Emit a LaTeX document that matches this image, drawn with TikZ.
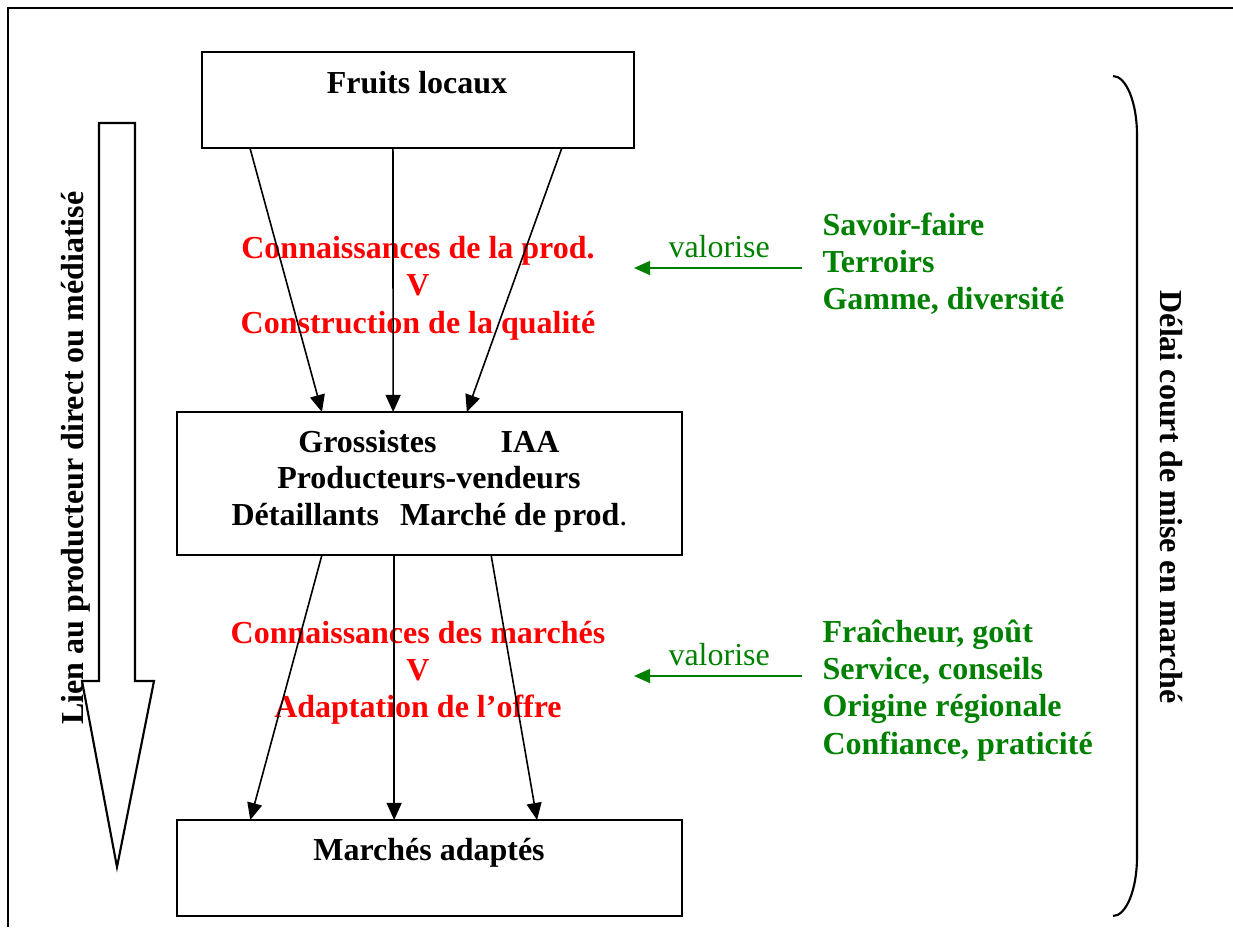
\documentclass[tikz,border=0pt]{standalone}
\usepackage{fontspec}
\setmainfont{Liberation Serif}
\usetikzlibrary{arrows.meta,calc}
\definecolor{wred}{RGB}{255,0,0}
\definecolor{wgreen}{RGB}{0,128,0}
\begin{document}
\begin{tikzpicture}[x=0.375pt,y=-0.375pt,
  box/.style={draw, line width=0.8pt, inner sep=0pt, outer sep=0pt},
  txt/.style={font=\fontsize{12}{14}\selectfont\bfseries, inner sep=0pt, anchor=base},
  redtxt/.style={txt, text=wred},
  greentxt/.style={txt, text=wgreen, anchor=base west},
  valtxt/.style={font=\fontsize{12}{14}\selectfont, text=wgreen, inner sep=0pt, anchor=base west},
  conn/.style={line width=0.6pt, -{Triangle[length=6.4pt,width=5.6pt]}},
  gconn/.style={wgreen, line width=0.65pt, -{Triangle[length=6pt,width=5.2pt]}},
  thick line/.style={line width=0.8pt},
]
\useasboundingbox (0,0) rectangle (1233,927);

% outer frame (top and left edges)
\draw[line width=0.9pt] (1233,8) -- (8,8) -- (8,927);

% boxes
\node[box, minimum width=162pt, minimum height=36pt] (top) at (418,100) {};
\node[box, minimum width=189.375pt, minimum height=53.625pt] (mid) at (429.5,483.5) {};
\node[box, minimum width=189.375pt, minimum height=36pt] (bot) at (429.5,868) {};

% box texts
\node[txt] (fruits) at (417,93) {Fruits locaux};
\node[txt] (gros) at (367.5,452) {Grossistes};
\node[txt] (iaa) at (530,452) {IAA};
\node[txt] (prodv) at (429,488.5) {Producteurs-vendeurs};
\node[txt, anchor=base west] (detail) at (231,525) {Détaillants};
\node[txt, anchor=base east] (marche) at (628,525) {Marché de prod\textmd{.}};
\node[txt] (adaptes) at (429,860) {Marchés adaptés};

% red texts
\node[redtxt] (r1) at (418,258) {Connaissances de la prod.};
\node[redtxt] (r2) at (418,295) {V};
\node[redtxt] (r3) at (418,333) {Construction de la qualité};
\node[redtxt] (r4) at (418,643) {Connaissances des marchés};
\node[redtxt] (r5) at (418,680) {V};
\node[redtxt] (r6) at (418,717) {Adaptation de l’offre};

% green lists
\node[greentxt] (g1) at (822,235) {Savoir-faire};
\node[greentxt] (g2) at (822,272) {Terroirs};
\node[greentxt] (g3) at (822,309) {Gamme, diversité};
\node[greentxt] (g4) at (822,642) {Fraîcheur, goût};
\node[greentxt] (g5) at (822,679) {Service, conseils};
\node[greentxt] (g6) at (822,716) {Origine régionale};
\node[greentxt] (g7) at (822,754) {Confiance, praticité};

\node[valtxt] (val1) at (668,257) {valorise};
\node[valtxt] (val2) at (668,665) {valorise};

\coordinate (v1s) at (802,268);
\coordinate (v1e) at (634,268);
\coordinate (v2s) at (802,676);
\coordinate (v2e) at (634,676);
\draw[gconn] (v1s) -- (v1e);
\draw[gconn] (v2s) -- (v2e);

% connectors top -> mid
\draw[conn] ($(top.south west)!0.111!(top.south east)$) -- ($(mid.north west)!0.287!(mid.north east)$);
\draw[conn] ($(top.south west)!0.442!(top.south east)$) -- ($(mid.north west)!0.428!(mid.north east)$);
\draw[conn] ($(top.south west)!0.833!(top.south east)$) -- ($(mid.north west)!0.574!(mid.north east)$);
% connectors mid -> bot
\draw[conn] ($(mid.south west)!0.287!(mid.south east)$) -- ($(bot.north west)!0.145!(bot.north east)$);
\draw[conn] ($(mid.south west)!0.430!(mid.south east)$) -- ($(bot.north west)!0.430!(bot.north east)$);
\draw[conn] ($(mid.south west)!0.622!(mid.south east)$) -- ($(bot.north west)!0.713!(bot.north east)$);

% big hollow arrow
\draw[thick line] (99,123) -- (135,123) -- (135,681) -- (154,681) -- (117,867) -- (82,681) -- (99,681) -- cycle;
\node[txt, rotate=90] (lien) at (83,458) {Lien au producteur direct ou médiatisé};

% right brace
\draw[thick line] (1113,76) .. controls (1126,76) and (1137,102) .. (1137,135)
  -- (1137,857) .. controls (1137,890) and (1126,916) .. (1113,916);
\node[txt, rotate=-90] (delai) at (1160,497) {Délai court de mise en marché};
\end{tikzpicture}
\end{document}
